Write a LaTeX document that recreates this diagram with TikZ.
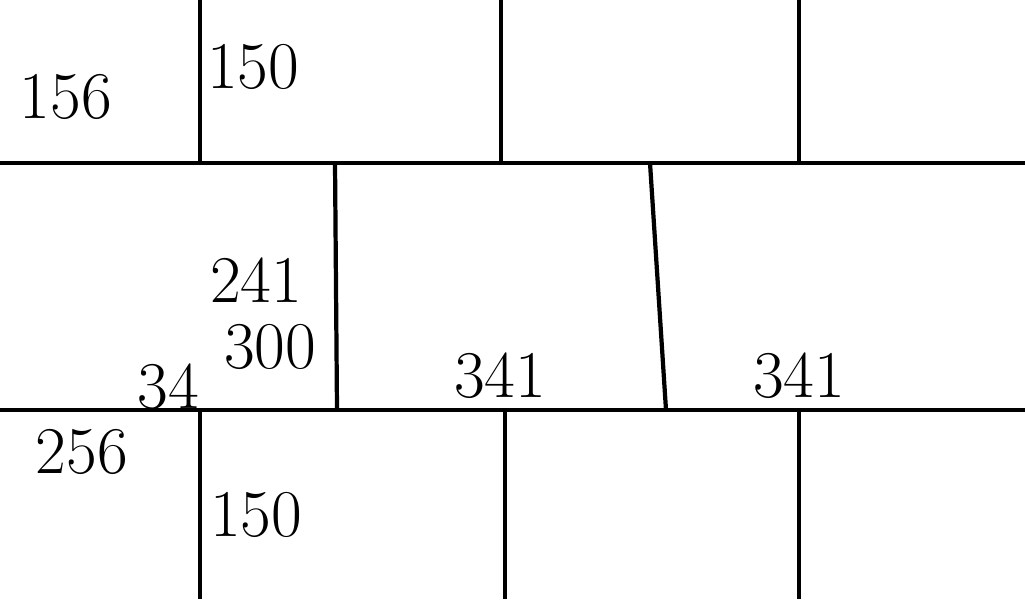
\documentclass[tikz,border=0pt]{standalone}
\usepackage{tikz}
\usetikzlibrary{positioning}

\begin{document}
\begin{tikzpicture}[x=0.01cm,y=-0.01cm,
          wall/.style={line width=1.2pt,black},
          num/.style={font=\fontsize{19}{19}\selectfont,inner sep=0pt}]
        \useasboundingbox (0,0) rectangle (1025,599);
        % courses
        \coordinate (l1) at (0,163);   \coordinate (r1) at (1025,163);
        \coordinate (l2) at (0,410);   \coordinate (r2) at (1025,410);
        \draw[wall] (l1)--(r1);
        \draw[wall] (l2)--(r2);
        % joints, top row
        \draw[wall] (200,0)--(200,163);
        \draw[wall] (501,0)--(501,163);
        \draw[wall] (799,0)--(799,163);
        % joints, middle row
        \draw[wall] (335,163)--(337,410);
        \draw[wall] (650,163)--(666,410);
        % joints, bottom row
        \draw[wall] (200,410)--(200,599);
        \draw[wall] (505,410)--(505,599);
        \draw[wall] (799,410)--(799,599);
        % sizes
        \node[num] (a) at (66,97)  {156};
        \node[num] (b) at (253,67) {150};
        \node[num] (c) at (256,280) {241};
        \node[num] (d) at (270,347) {300};
        \node[num] (e) at (168,387) {34};
        \node[num] (f) at (500,376) {341};
        \node[num] (g) at (799,376) {341};
        \node[num] (h) at (82,452) {256};
        \node[num] (i) at (256,515) {150};
      \end{tikzpicture}
\end{document}
